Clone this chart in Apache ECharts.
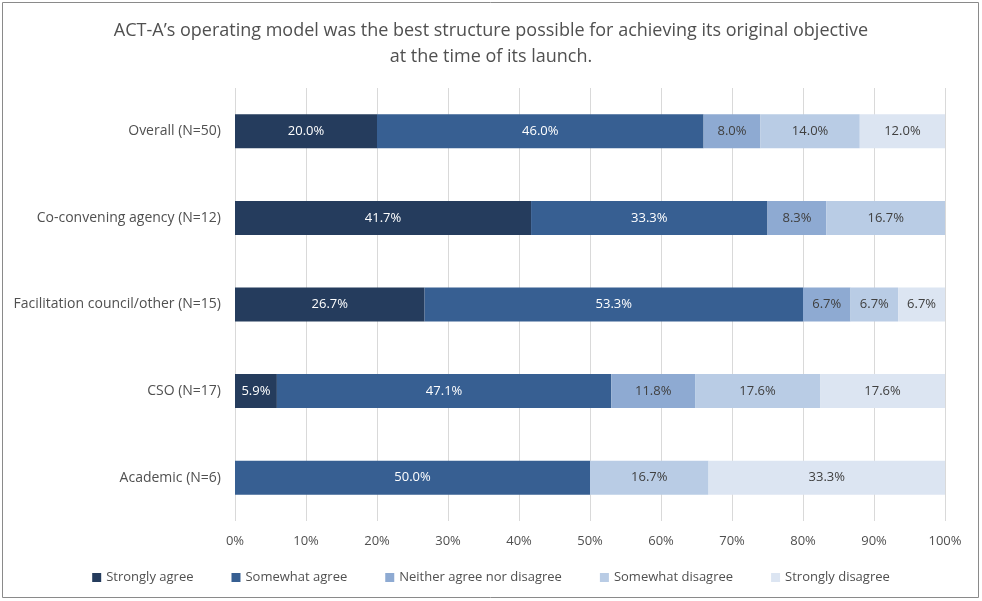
<!DOCTYPE html>
<html>
<head>
<meta charset="utf-8">
<script src="https://cdn.jsdelivr.net/npm/echarts@6/dist/echarts.min.js"></script>
<style>
  html, body { margin: 0; padding: 0; background: #fff; }
  #chart { width: 982px; height: 601px; }
</style>
</head>
<body>
<div id="chart"></div>
<script>
  // groups, top to bottom
  const categories = ['Overall (N=50)', 'Co-convening agency (N=12)', 'Facilitation council/other (N=15)', 'CSO (N=17)', 'Academic (N=6)']
  const seriesNames = ['Strongly agree', 'Somewhat agree', 'Neither agree nor disagree', 'Somewhat disagree', 'Strongly disagree']
  const stronglyAgree = [20.0, 41.7, 26.7, 5.9, 0]
  const somewhatAgree = [46.0, 33.3, 53.3, 47.1, 50.0]
  const neither = [8.0, 8.3, 6.7, 11.8, 0]
  const somewhatDisagree = [14.0, 16.7, 6.7, 17.6, 16.7]
  const stronglyDisagree = [12.0, 0, 6.7, 17.6, 33.3]

  const colors = ['#253c5d', '#375f92', '#8eaad2', '#b9cce5', '#dce5f2']
  const labelColors = ['#ffffff', '#ffffff', '#404040', '#404040', '#404040']
  const values = [stronglyAgree, somewhatAgree, neither, somewhatDisagree, stronglyDisagree]
  const font = 'Open Sans'

  const chart = echarts.init(document.getElementById('chart'))
  chart.setOption({
    animation: false,
    color: colors,
    textStyle: {fontFamily: font},
    title: {
      text: 'ACT-A\u2019s operating model was the best structure possible for achieving its original objective\nat the time of its launch.',
      left: 'center',
      top: 13,
      textStyle: {fontFamily: font, fontSize: 18, fontWeight: 'normal', color: '#505050', lineHeight: 26}
    },
    graphic: [{
      type: 'rect',
      shape: {x: 2.5, y: 2.5, width: 976, height: 595},
      style: {fill: 'none', stroke: '#8a8a8a', lineWidth: 1},
      silent: true
    }],
    legend: {
      bottom: 12,
      left: 'center',
      itemGap: 38,
      itemWidth: 9,
      itemHeight: 9,
      icon: 'rect',
      textStyle: {fontFamily: font, fontSize: 13, color: '#505050'},
      data: seriesNames
    },
    grid: {left: 235, right: 37, top: 88, bottom: 80},
    xAxis: {
      type: 'value',
      min: 0,
      max: 100,
      interval: 10,
      axisLine: {show: false},
      axisTick: {show: false},
      axisLabel: {formatter: '{value}%', color: '#505050', fontSize: 13, margin: 14},
      splitLine: {lineStyle: {color: '#d9d9d9'}}
    },
    yAxis: {
      type: 'category',
      inverse: true,
      data: categories,
      axisLine: {show: false},
      axisTick: {show: false},
      axisLabel: {color: '#505050', fontSize: 14, margin: 14}
    },
    series: seriesNames.map((name, i) => ({
      name: name,
      type: 'bar',
      stack: 'total',
      barWidth: 34,
      data: values[i].map(v => v === 0 ? null : v),
      itemStyle: {color: colors[i]},
      label: {
        show: true,
        position: 'inside',
        color: labelColors[i],
        fontSize: 13,
        fontFamily: font,
        formatter: p => p.value == null ? '' : p.value.toFixed(1) + '%'
      }
    }))
  })
</script>
</body>
</html>
